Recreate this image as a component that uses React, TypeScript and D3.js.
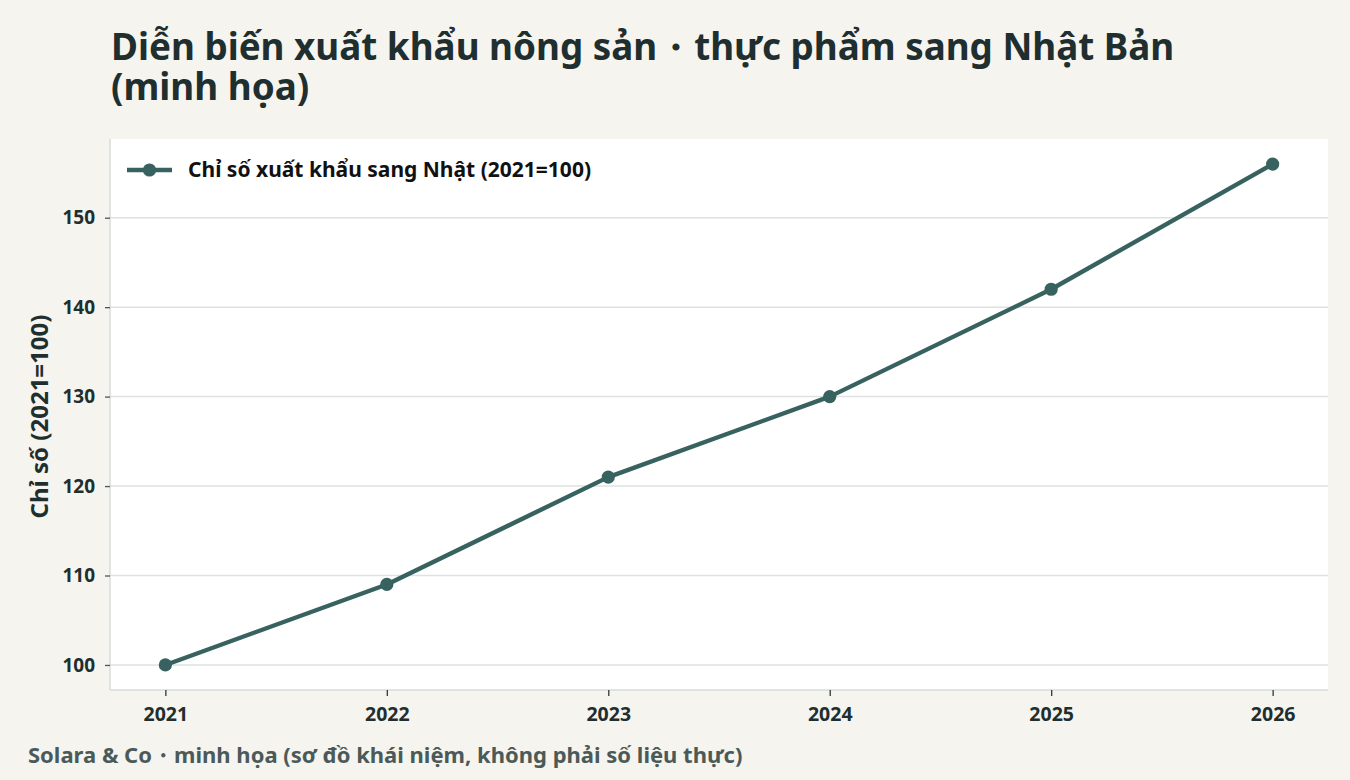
import * as d3 from "d3";
import { useEffect, useRef } from "react";

const years = [2021, 2022, 2023, 2024, 2025, 2026];
const indexValues = [100, 109, 121, 130, 142, 156];
const yTicks = [100, 110, 120, 130, 140, 150];

const titleLines = [
  "Diễn biến xuất khẩu nông sản・thực phẩm sang Nhật Bản",
  "(minh họa)",
];
const seriesName = "Chỉ số xuất khẩu sang Nhật (2021=100)";
const yLabel = "Chỉ số (2021=100)";
const footer = "Solara & Co・minh họa (sơ đồ khái niệm, không phải số liệu thực)";

function App() {
  const ref = useRef<SVGSVGElement>(null);

  useEffect(() => {
    document.body.style.margin = "0";
    const W = 1350,
      H = 780;
    const margin = { top: 139, right: 22, bottom: 90, left: 110 };
    const width = W - margin.left - margin.right,
      height = H - margin.top - margin.bottom;
    const font = "'Noto Sans', 'DejaVu Sans', sans-serif";
    const ink = "#1f2e2e";
    const lineColor = "#37625f";

    const root = d3.select(ref.current);
    root.selectAll("*").remove();

    root.append("rect").attr("width", W).attr("height", H).attr("fill", "#f5f4ef");

    // title
    root
      .append("g")
      .selectAll("text")
      .data(titleLines)
      .join("text")
      .attr("x", 111)
      .attr("y", (d, i) => 60 + i * 40)
      .text((d) => d)
      .style("font-family", font)
      .style("font-weight", 700)
      .style("font-size", "36.8px")
      .style("fill", ink);

    const svg = root.append("g").attr("transform", `translate(${margin.left},${margin.top})`);

    svg.append("rect").attr("width", width).attr("height", height).attr("fill", "#ffffff");

    const x = d3.scaleLinear().domain([2020.75, 2026.25]).range([0, width]);
    const y = d3.scaleLinear().domain([97.2, 158.8]).range([height, 0]);

    // grid
    svg
      .selectAll("line.grid")
      .data(yTicks)
      .join("line")
      .attr("class", "grid")
      .attr("x1", 0)
      .attr("x2", width)
      .attr("y1", (d) => y(d))
      .attr("y2", (d) => y(d))
      .attr("stroke", "#dde2e1")
      .attr("stroke-width", 1.5);

    // spines
    svg
      .append("line")
      .attr("x1", 0)
      .attr("x2", 0)
      .attr("y1", 0)
      .attr("y2", height)
      .attr("stroke", "#d6dcdb")
      .attr("stroke-width", 1.5);
    svg
      .append("line")
      .attr("x1", 0)
      .attr("x2", width)
      .attr("y1", height)
      .attr("y2", height)
      .attr("stroke", "#d6dcdb")
      .attr("stroke-width", 1.5);

    // axes
    const yAxis = svg
      .append("g")
      .call(d3.axisLeft(y).tickValues(yTicks).tickSize(5).tickPadding(10));
    yAxis.select(".domain").remove();
    yAxis.selectAll("line").attr("stroke", "#4a5856").attr("stroke-width", 1.3);
    yAxis
      .selectAll("text")
      .style("font-family", font)
      .style("font-weight", 700)
      .style("font-size", "19px")
      .style("fill", ink);

    const xAxis = svg
      .append("g")
      .attr("transform", `translate(0,${height})`)
      .call(
        d3
          .axisBottom(x)
          .tickValues(years)
          .tickFormat((d) => String(d))
          .tickSize(6)
          .tickPadding(11)
      );
    xAxis.select(".domain").remove();
    xAxis.selectAll("line").attr("stroke", "#2d3b3a").attr("stroke-width", 1.3);
    xAxis
      .selectAll("text")
      .style("font-family", font)
      .style("font-weight", 700)
      .style("font-size", "19.5px")
      .style("fill", ink);

    // y label
    svg
      .append("text")
      .attr("transform", `translate(${-62},${height / 2 + 2}) rotate(-90)`)
      .style("text-anchor", "middle")
      .text(yLabel)
      .style("font-family", font)
      .style("font-weight", 700)
      .style("font-size", "24px")
      .style("fill", ink);

    // series
    const pts = years.map((yr, i) => ({ yr, v: indexValues[i] }));
    const line = d3
      .line<{ yr: number; v: number }>()
      .x((d) => x(d.yr))
      .y((d) => y(d.v));
    svg
      .append("path")
      .datum(pts)
      .attr("d", line)
      .attr("fill", "none")
      .attr("stroke", lineColor)
      .attr("stroke-width", 4.4)
      .attr("stroke-linejoin", "round");
    svg
      .selectAll("circle.pt")
      .data(pts)
      .join("circle")
      .attr("class", "pt")
      .attr("cx", (d) => x(d.yr))
      .attr("cy", (d) => y(d.v))
      .attr("r", 6.6)
      .attr("fill", lineColor);

    // legend
    const legend = svg.append("g").attr("transform", `translate(17,31)`);
    legend
      .append("line")
      .attr("x1", 0)
      .attr("x2", 45)
      .attr("stroke", lineColor)
      .attr("stroke-width", 4.4);
    legend.append("circle").attr("cx", 22.5).attr("r", 6.6).attr("fill", lineColor);
    legend
      .append("text")
      .attr("x", 61)
      .attr("y", 7)
      .text(seriesName)
      .style("font-family", font)
      .style("font-weight", 700)
      .style("font-size", "21px")
      .style("fill", "#111");

    // footer
    root
      .append("text")
      .attr("x", 28)
      .attr("y", 763)
      .text(footer)
      .style("font-family", font)
      .style("font-weight", 700)
      .style("font-size", "22px")
      .style("fill", "#4b5a58");
  }, []);

  return <svg ref={ref} width={1350} height={780} style={{ display: "block" }} />;
}

export default App;
